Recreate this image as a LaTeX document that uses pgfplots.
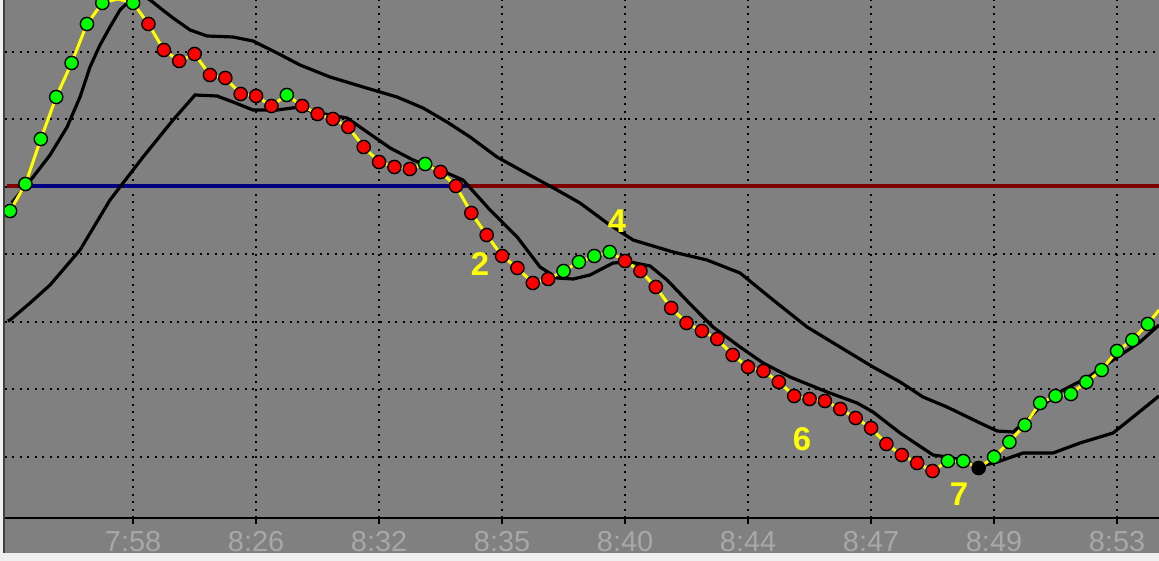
\documentclass[border=0pt]{standalone}
\usepackage{pgfplots}
\pgfplotsset{compat=1.18}
\usepackage{pgfplotstable}
\usepackage{fontspec}
\setmainfont{Liberation Sans}

\definecolor{bggray}{HTML}{808080}
\definecolor{strip}{HTML}{F0F0F0}
\definecolor{edge}{HTML}{404040}
\definecolor{ticktxt}{HTML}{A8A8A8}
\definecolor{navyline}{HTML}{000080}
\definecolor{maroonline}{HTML}{800000}
\definecolor{dotgreen}{HTML}{00FF00}
\definecolor{dotred}{HTML}{FF0000}
\definecolor{pathyellow}{HTML}{FFFF00}

% bar index, value, signal class (g = up, r = down, k = turn, n = no mark)
\pgfplotstableread{
i v c
0 307 g
1 334 g
2 379 g
3 421 g
4 455 g
5 494 g
6 515 g
7 519 g
8 515 g
9 494 r
10 468 r
11 457 r
12 464 r
13 443 r
14 440 r
15 424 r
16 422 r
17 412 r
18 423 g
19 412 r
20 404 r
21 399 r
22 391 r
23 371 r
24 356 r
25 351 r
26 349 r
27 354 g
28 346 r
29 332 r
30 305 r
31 283 r
32 262 r
33 250 r
34 235 r
35 239 r
36 247 g
37 256 g
38 262 g
39 266 g
40 257 r
41 247 r
42 231 r
43 210 r
44 195 r
45 187 r
46 179 r
47 163 r
48 151 r
49 147 r
50 136 r
51 122 r
52 119 r
53 117 r
54 109 r
55 100 r
56 90 r
57 74 r
58 63 r
59 55 r
60 47 r
61 57 g
62 57 g
63 50 k
64 61 g
65 76 g
66 93 g
67 115 g
68 122 g
69 124 g
70 136 g
71 148 g
72 167 g
73 178 g
74 194 g
74.73 208 n
}\price

% upper average
\pgfplotstableread{
i v
0.1 315
1.50 341
2.60 363
3.71 391
4.55 421
5.20 451
5.85 473
6.50 491
7.15 508
7.61 515
8.13 522
8.65 522
9.11 518
9.76 510
10.60 500
11.71 488
12.81 482
14.50 481
15.80 477
17.37 465
18.86 453
20.81 441
22.96 431
25.17 421
26.86 410
28.42 396
29.92 381
31.67 361
34.02 341
35.58 328
37.07 315
38.83 295
40.52 278
43.12 266
45.33 258
47.48 245
49.63 218
51.84 191
53.98 171
56.13 151
57.89 136
59.38 121
60.94 111
63.09 95
64.20 87
65.24 86
66.15 98
66.99 111
68.49 128
70.05 140
71.74 158
73.50 176
74.73 193
}\maUp

% lower average
\pgfplotstableread{
i v
-0.15 197
0 198
1.30 215
2.60 233
4.55 268
6.50 318
8.65 361
10.60 398
12.03 423
13.46 422
14.50 416
15.80 408
17.37 408
18.86 411
19.71 406
21.92 400
23.22 386
24.72 370
26.21 358
28.42 345
29.46 338
31.22 308
32.98 281
34.47 251
35.58 240
36.62 239
37.72 243
39.22 255
40.33 256
41.63 252
42.73 238
44.42 211
45.72 191
47.48 171
48.98 155
50.73 141
53.14 126
55.09 115
56.13 106
57.89 85
60.03 63
60.94 61
61.98 58
62.89 51
64.20 56
65.89 65
67.84 65
69.59 75
71.74 85
73.04 101
74.73 122
}\maLow

\begin{document}
\begin{tikzpicture}
\useasboundingbox (-2.5bp,-21.5bp) rectangle (577bp,259bp);
\fill[strip] (-2.5bp,-21.5bp) rectangle (577bp,259bp);
\fill[bggray] (0,-17.5bp) rectangle (577bp,259bp);
\fill[edge] (-1.2bp,-17.5bp) rectangle (0,259bp);
\begin{axis}[
    at={(0,0)}, anchor=south west,
    scale only axis,
    width=577bp, height=259bp,
    xmin=-0.33, xmax=74.73,
    ymin=0, ymax=518,
    axis line style={draw=none},
    xtick={8,16,...,72},
    xticklabels={7:58,8:26,8:32,8:35,8:40,8:44,8:47,8:49,8:53},
    ytick={61,128.5,196,263.5,331,398.5,466},
    yticklabels={},
    y tick style={draw=none},
    x tick style={black, line width=1bp},
    xtick pos=bottom,
    tick align=outside,
    major tick length=3bp,
    xmajorgrids, ymajorgrids,
    grid style={black, line width=1bp, dash pattern=on 1bp off 2.75bp},
    xticklabel style={font=\fontsize{14.5}{16}\selectfont, text=ticktxt},
    clip marker paths=true,
]
\addplot[maroonline, line width=2bp] coordinates {(-0.2,331.5) (74.73,331.5)};
\addplot[navyline, line width=2bp] coordinates {(1,331.5) (29.66,331.5)};

\addplot[black, line width=1.6bp] table[x=i, y=v] {\maUp};
\addplot[black, line width=1.6bp] table[x=i, y=v] {\maLow};

\addplot[pathyellow, line width=1.5bp] table[x=i, y=v] {\price};

\addplot[scatter, only marks, mark=*, mark size=3.3bp,
    restrict x to domain=-0.5:74.5,
    scatter src=explicit symbolic,
    mark options={line width=0.7bp},
    scatter/classes={
        g={fill=dotgreen, draw=black},
        r={fill=dotred, draw=black},
        k={fill=black, draw=black}}
] table[x=i, y=v, meta=c] {\price};

\node[font=\bfseries\fontsize{16.5}{18}\selectfont, text=pathyellow] at (axis cs:30.57,254) {2};
\node[font=\bfseries\fontsize{16.5}{18}\selectfont, text=pathyellow] at (axis cs:39.48,297) {4};
\node[font=\bfseries\fontsize{16.5}{18}\selectfont, text=pathyellow] at (axis cs:51.51,79) {6};
\node[font=\bfseries\fontsize{16.5}{18}\selectfont, text=pathyellow] at (axis cs:61.72,24) {7};

\draw[black, line width=1bp] (rel axis cs:0,0) -- (rel axis cs:1,0);
\end{axis}
\end{tikzpicture}
\end{document}
